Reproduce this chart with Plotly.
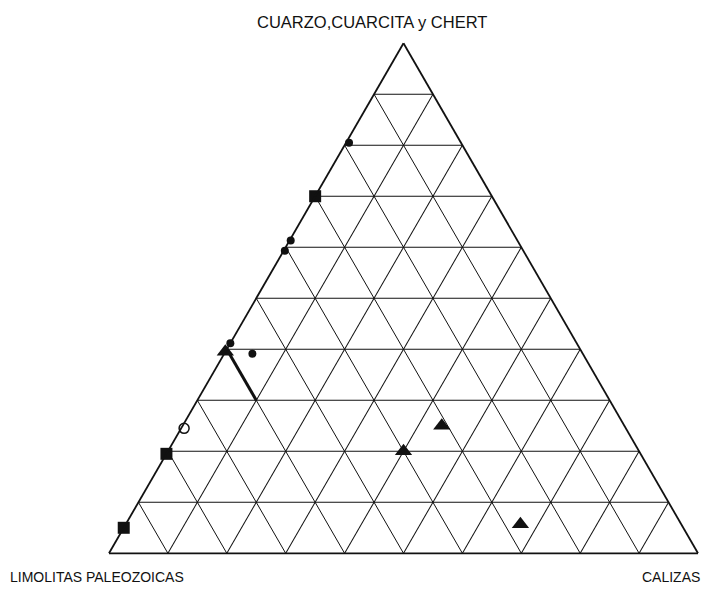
import plotly.graph_objects as go

# Composición ternaria (fracciones): a = cuarzo/cuarcita/chert, b = limolitas, c = calizas
sq_a = [0.70, 0.195, 0.05]
sq_b = [0.30, 0.805, 0.95]
sq_c = [0.00, 0.000, 0.00]

tri_a = [0.395, 0.20, 0.25, 0.057]
tri_b = [0.605, 0.40, 0.31, 0.273]
tri_c = [0.000, 0.40, 0.44, 0.670]

dot_a = [0.805, 0.613, 0.593, 0.412, 0.391]
dot_b = [0.190, 0.385, 0.405, 0.588, 0.561]
dot_c = [0.005, 0.002, 0.002, 0.000, 0.048]

open_a = [0.245]
open_b = [0.750]
open_c = [0.005]

# tramo grueso sobre la línea b = 0.6
seg_a = [0.40, 0.30]
seg_b = [0.60, 0.60]
seg_c = [0.00, 0.10]

TITLE_A = "CUARZO,CUARCITA y CHERT"
TITLE_B = "LIMOLITAS PALEOZOICAS"
TITLE_C = "CALIZAS"

INK = "#111111"
FONT = dict(family="Liberation Sans, Arial, sans-serif", color=INK, size=14)

fig = go.Figure()
fig.add_trace(go.Scatterternary(
    a=seg_a, b=seg_b, c=seg_c, mode="lines", cliponaxis=False,
    line=dict(color=INK, width=3), hoverinfo="skip",
))
fig.add_trace(go.Scatterternary(
    a=sq_a, b=sq_b, c=sq_c, mode="markers", cliponaxis=False,
    marker=dict(symbol="square", size=12, color=INK, line=dict(width=0)),
))
fig.add_trace(go.Scatterternary(
    a=tri_a, b=tri_b, c=tri_c, mode="markers", cliponaxis=False,
    marker=dict(symbol="triangle-up", size=15, color=INK, line=dict(width=0)),
))
fig.add_trace(go.Scatterternary(
    a=dot_a, b=dot_b, c=dot_c, mode="markers", cliponaxis=False,
    marker=dict(symbol="circle", size=8, color=INK, line=dict(width=0)),
))
fig.add_trace(go.Scatterternary(
    a=open_a, b=open_b, c=open_c, mode="markers", cliponaxis=False,
    marker=dict(symbol="circle", size=10, color="white", line=dict(color=INK, width=1.5)),
))

axis = dict(
    showticklabels=False, ticks="", title=dict(text=""),
    showgrid=True, gridcolor=INK, gridwidth=1.3,
    tick0=0, dtick=0.1,
    showline=True, linecolor=INK, linewidth=1.8,
)
fig.update_layout(
    width=705, height=589,
    margin=dict(l=0, r=0, t=0, b=0),
    paper_bgcolor="white",
    showlegend=False,
    font=FONT,
    ternary=dict(
        sum=1,
        bgcolor="white",
        domain=dict(x=[109 / 705, 698 / 705], y=[35 / 589, 546.5 / 589]),
        aaxis=axis, baxis=axis, caxis=axis,
    ),
    annotations=[
        dict(text=TITLE_A, x=372 / 705, y=567 / 589, xref="paper", yref="paper",
             showarrow=False, xanchor="center", yanchor="middle", font=dict(size=16.5)),
        dict(text=TITLE_B, x=8 / 705, y=12 / 589, xref="paper", yref="paper",
             showarrow=False, xanchor="left", yanchor="middle"),
        dict(text=TITLE_C, x=702 / 705, y=12 / 589, xref="paper", yref="paper",
             showarrow=False, xanchor="right", yanchor="middle"),
    ],
)

# sin margen del body para que la figura quede en (0, 0)
fig.write_html("out.html", config={"displayModeBar": False},
               post_script="document.body.style.margin='0';")
